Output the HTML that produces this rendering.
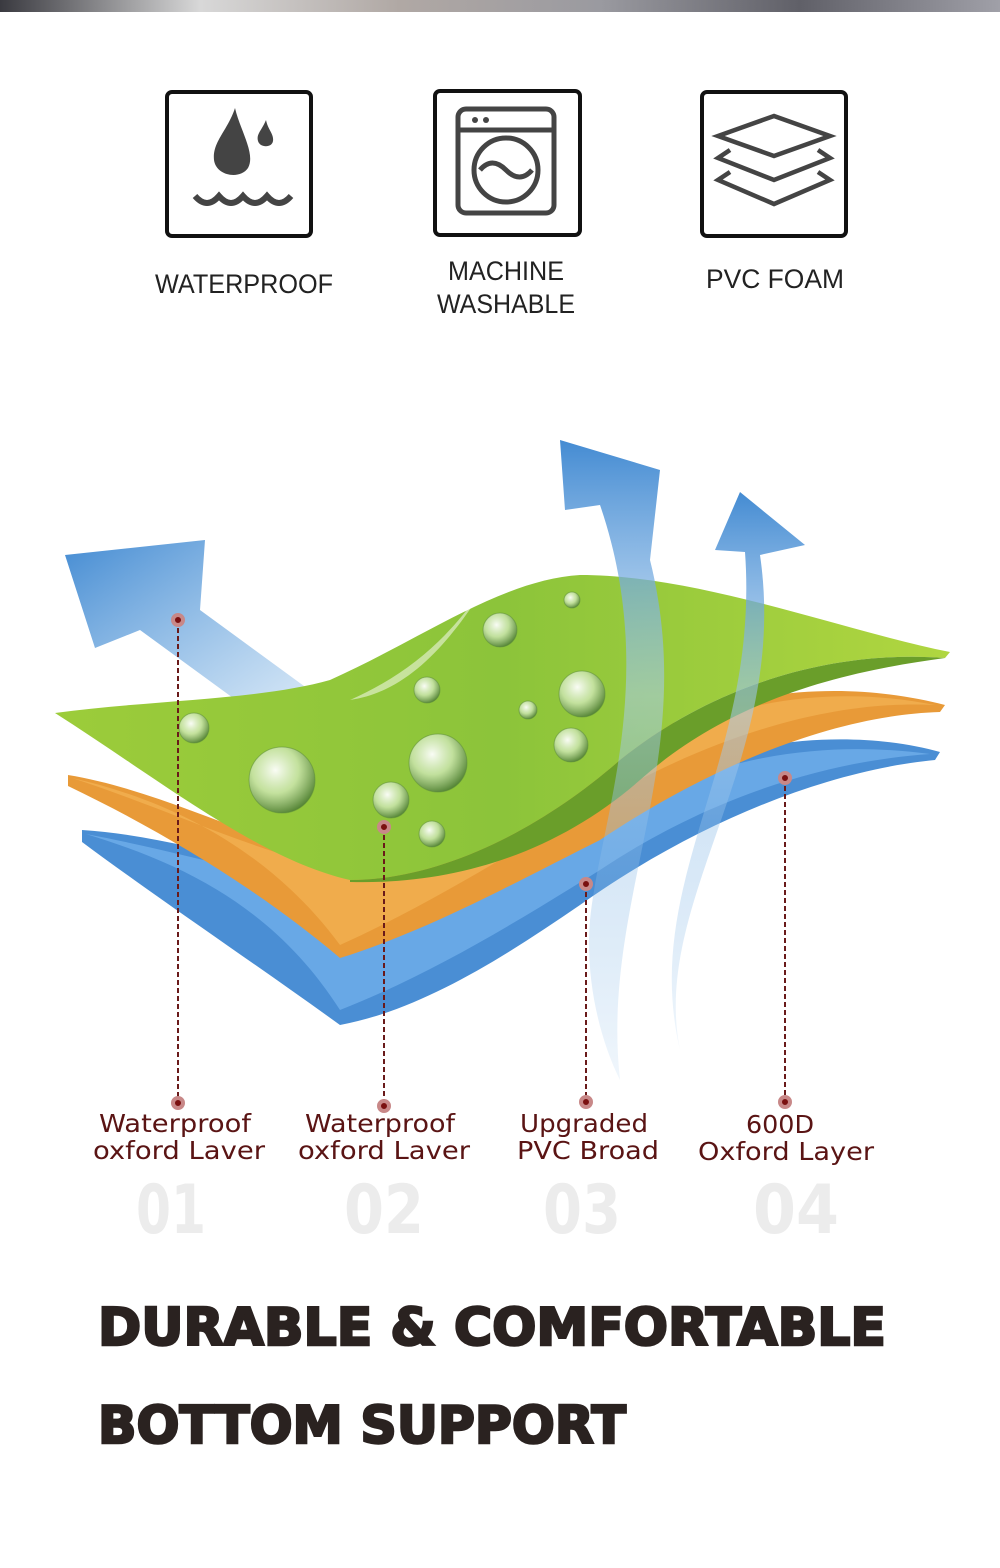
<!DOCTYPE html>
<html><head><meta charset="utf-8"><style>
html,body{margin:0;padding:0;background:#fff}
svg{display:block}
</style></head><body>
<svg width="1000" height="1568" viewBox="0 0 1000 1568" xmlns="http://www.w3.org/2000/svg">
<defs>
<linearGradient id="top" x1="0" x2="1" y1="0" y2="0">
<stop offset="0" stop-color="#3a3a40"/><stop offset="0.2" stop-color="#d8d8d8"/><stop offset="0.4" stop-color="#b0a8a4"/><stop offset="0.6" stop-color="#9a9aa0"/><stop offset="0.8" stop-color="#606068"/><stop offset="1" stop-color="#a0a0a8"/>
</linearGradient>
<linearGradient id="arr" x1="0" y1="1" x2="0" y2="0">
<stop offset="0" stop-color="#6aa8e0" stop-opacity="0.1"/><stop offset="0.6" stop-color="#a8ccee" stop-opacity="0.55"/><stop offset="1" stop-color="#3a85d0" stop-opacity="0.95"/>
</linearGradient>
<linearGradient id="arrL" x1="1" y1="1" x2="0" y2="0">
<stop offset="0" stop-color="#6aa8e0" stop-opacity="0.2"/><stop offset="1" stop-color="#3a85d0" stop-opacity="0.95"/>
</linearGradient>
<linearGradient id="green" x1="0" y1="0" x2="1" y2="0">
<stop offset="0" stop-color="#9ccc3a"/><stop offset="0.5" stop-color="#8cc43a"/><stop offset="1" stop-color="#b0d640"/>
</linearGradient>
<radialGradient id="drop" cx="0.4" cy="0.35" r="0.7">
<stop offset="0" stop-color="#ffffff" stop-opacity="0.95"/><stop offset="0.5" stop-color="#d8ecc8" stop-opacity="0.7"/><stop offset="1" stop-color="#3a6a2a" stop-opacity="0.8"/>
</radialGradient>
</defs>
<rect x="0" y="0" width="1000" height="12" fill="url(#top)"/>

<!-- icons -->
<g fill="none" stroke="#111" stroke-width="4">
<rect x="167" y="92" width="144" height="144" rx="5"/>
<rect x="435" y="91" width="145" height="144" rx="5"/>
<rect x="702" y="92" width="144" height="144" rx="5"/>
</g>
<g fill="#444">
<path d="M235 108 C228 130 212 142 214 160 C216 176 240 180 248 168 C256 154 240 130 235 108Z"/>
<path d="M266 120 C262 130 256 134 258 141 C260 148 272 148 273 141 C274 134 268 130 266 120Z"/>
</g>
<path d="M195 196 q12 14 24 0 q12 14 24 0 q12 14 24 0 q12 14 24 0" fill="none" stroke="#444" stroke-width="6"/>
<g fill="none" stroke="#444" stroke-width="5">
<rect x="458" y="109" width="96" height="104" rx="8"/>
<line x1="458" y1="130" x2="554" y2="130"/>
<circle cx="506" cy="170" r="32"/>
<path d="M480 170 q12 -14 26 0 q14 14 26 0"/>
</g>
<circle cx="475" cy="120" r="3" fill="#444"/><circle cx="486" cy="120" r="3" fill="#444"/>
<g fill="none" stroke="#444" stroke-width="4.5">
<path d="M774 116 L830 136 L774 156 L718 136Z"/>
<path d="M730 150 L718 158 L774 180 L830 158 L818 150"/>
<path d="M730 172 L718 180 L774 204 L830 180 L818 172"/>
</g>
<g font-family="'Liberation Sans',sans-serif" font-size="27" fill="#222" text-anchor="middle">
<text x="244" y="293" textLength="178" lengthAdjust="spacingAndGlyphs">WATERPROOF</text>
<text x="506" y="280" textLength="116" lengthAdjust="spacingAndGlyphs">MACHINE</text>
<text x="506" y="313" textLength="138" lengthAdjust="spacingAndGlyphs">WASHABLE</text>
<text x="775" y="288" textLength="138" lengthAdjust="spacingAndGlyphs">PVC  FOAM</text>
</g>

<!-- left arrow -->
<path d="M330 705 L200 610 L205 540 L65 555 L95 648 L140 630 L270 725Z" fill="url(#arrL)"/>
<!-- blue layer -->
<path d="M82 830 L82 842 C160 900 250 960 340 1025 C420 1010 500 960 580 905 C700 820 830 770 935 760 L940 752 C880 735 780 730 680 770 C560 820 450 880 330 880 C240 860 160 835 82 830Z" fill="#4a8ed4"/>
<path d="M86 834 C170 860 270 900 340 1010 C430 975 520 920 600 870 C720 790 840 760 930 754 C840 742 740 750 640 800 C540 850 440 900 330 890 C240 870 170 850 86 834Z" fill="#68a8e6"/>
<!-- orange layer -->
<path d="M68 775 L68 786 C160 830 260 890 340 958 C430 930 520 880 600 840 C720 760 840 715 940 712 L945 705 C880 688 780 680 680 720 C560 770 460 840 340 860 C250 840 160 790 68 775Z" fill="#e89a38"/>
<path d="M72 778 C170 800 270 850 340 945 C440 900 530 840 620 790 C730 730 840 700 935 705 C860 690 760 690 660 740 C560 790 460 860 340 870 C250 850 170 810 72 778Z" fill="#f0ac4c"/>
<!-- green layer -->
<path d="M55 713 C150 700 260 700 330 680 C420 640 500 580 580 575 C700 575 840 630 950 652 L945 658 C840 650 720 680 620 760 C540 830 440 880 350 880 C260 860 160 780 55 713Z" fill="url(#green)"/>
<path d="M350 880 C440 880 540 830 620 760 C720 680 840 650 945 658 C840 672 730 700 640 780 C560 850 460 885 350 882Z" fill="#6a9e2a"/>
<!-- curved up arrows -->
<path d="M620 1080 C600 900 700 760 650 560 L660 470 L560 440 L565 510 L600 505 C660 680 600 820 590 920 C585 980 600 1040 620 1080Z" fill="url(#arr)"/>
<path d="M680 1050 C650 900 790 760 760 555 L805 545 L740 492 L715 550 L745 552 C760 760 640 880 680 1050Z" fill="url(#arr)"/>
<path d="M350 700 C420 690 470 620 520 525 C480 600 440 660 350 700Z" fill="#ffffff" fill-opacity="0.5"/>
<!-- drops -->
<g fill="url(#drop)" stroke="#5a8a3a" stroke-width="1" stroke-opacity="0.5">
<circle cx="282" cy="780" r="33"/><circle cx="438" cy="763" r="29"/><circle cx="582" cy="694" r="23"/>
<circle cx="500" cy="630" r="17"/><circle cx="571" cy="745" r="17"/><circle cx="391" cy="800" r="18"/>
<circle cx="194" cy="728" r="15"/><circle cx="427" cy="690" r="13"/><circle cx="432" cy="834" r="13"/>
<circle cx="528" cy="710" r="9"/><circle cx="572" cy="600" r="8"/>
</g>
<!-- dashed leader lines -->
<g stroke="#6a1a1a" stroke-width="2" stroke-dasharray="5,3">
<line x1="178" y1="620" x2="178" y2="1103"/>
<line x1="384" y1="827" x2="384" y2="1106"/>
<line x1="586" y1="884" x2="586" y2="1102"/>
<line x1="785" y1="778" x2="785" y2="1102"/>
</g>
<g fill="#7a1010" stroke="#c88888" stroke-width="4">
<circle cx="178" cy="620" r="5"/><circle cx="384" cy="827" r="5"/><circle cx="586" cy="884" r="5"/><circle cx="785" cy="778" r="5"/>
<circle cx="178" cy="1103" r="5"/><circle cx="384" cy="1106" r="5"/><circle cx="586" cy="1102" r="5"/><circle cx="785" cy="1102" r="5"/>
</g>
<g font-family="'DejaVu Sans',sans-serif" font-size="25" fill="#5a1414" text-anchor="middle">
<text x="175" y="1132" textLength="152" lengthAdjust="spacingAndGlyphs">Waterproof</text>
<text x="179" y="1159" textLength="172" lengthAdjust="spacingAndGlyphs">oxford Laver</text>
<text x="380" y="1132" textLength="150" lengthAdjust="spacingAndGlyphs">Waterproof</text>
<text x="384" y="1159" textLength="172" lengthAdjust="spacingAndGlyphs">oxford Laver</text>
<text x="584" y="1132" textLength="128" lengthAdjust="spacingAndGlyphs">Upgraded</text>
<text x="588" y="1159" textLength="142" lengthAdjust="spacingAndGlyphs">PVC Broad</text>
<text x="780" y="1133" textLength="68" lengthAdjust="spacingAndGlyphs">600D</text>
<text x="786" y="1160" textLength="176" lengthAdjust="spacingAndGlyphs">Oxford Layer</text>
</g>
<g font-family="'DejaVu Sans',sans-serif" font-weight="bold" font-size="68" fill="#ececec" text-anchor="middle">
<text x="171" y="1233" textLength="70" lengthAdjust="spacingAndGlyphs">01</text>
<text x="384" y="1233" textLength="80" lengthAdjust="spacingAndGlyphs">02</text>
<text x="582" y="1233" textLength="78" lengthAdjust="spacingAndGlyphs">03</text>
<text x="796" y="1233" textLength="86" lengthAdjust="spacingAndGlyphs">04</text>
</g>
<g font-family="'DejaVu Sans',sans-serif" font-weight="bold" font-size="52" fill="#2a2220" stroke="#2a2220" stroke-width="2.5">
<text x="98" y="1345" textLength="788" lengthAdjust="spacingAndGlyphs">DURABLE &amp; COMFORTABLE</text>
<text x="98" y="1443" textLength="528" lengthAdjust="spacingAndGlyphs">BOTTOM SUPPORT</text>
</g>
</svg>
</body></html>
